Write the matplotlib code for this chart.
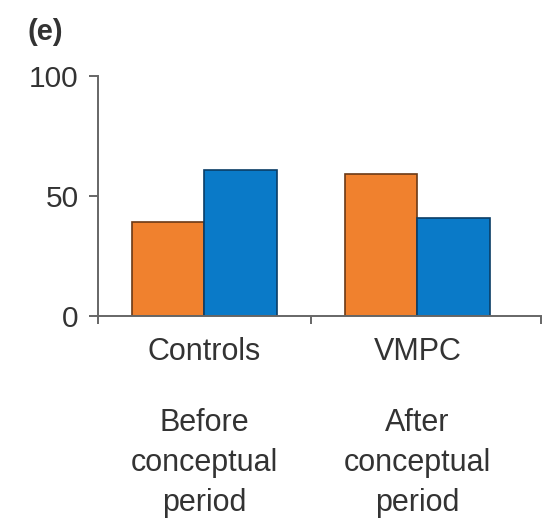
import numpy as np
import matplotlib.pyplot as plt
from matplotlib import transforms

plt.rcParams['font.family'] = ['Liberation Sans', 'DejaVu Sans']

# Datos
grupos = ['Controls', 'VMPC']
periodos = ['Before\nconceptual\nperiod', 'After\nconceptual\nperiod']
naranja = [39, 59]
azul = [61, 41]

color_texto = '#333333'
color_eje = '#666666'

fig = plt.figure(figsize=(5.45, 5.25), dpi=100)
ax = fig.add_axes([0.179, 0.398, 0.814, 0.457])

x = np.arange(len(grupos))
ancho = 0.34
ax.bar(x - ancho / 2, naranja, ancho, color='#F0812E', edgecolor='#6b3a16', linewidth=1.2)
ax.bar(x + ancho / 2, azul, ancho, color='#0A7AC8', edgecolor='#0b3d66', linewidth=1.2)

ax.set_xlim(-0.5, 1.58)
ax.set_ylim(0, 100)
ax.set_yticks([0, 50, 100])
ax.set_xticks([-0.5, 0.5, 1.58])
ax.set_xticklabels([])

for lado in ['top', 'right']:
    ax.spines[lado].set_visible(False)
for lado in ['left', 'bottom']:
    ax.spines[lado].set_color(color_eje)
    ax.spines[lado].set_linewidth(1.4)

ax.tick_params(axis='y', direction='out', length=6.5, width=1.4, color=color_eje,
               labelsize=21.5, labelcolor=color_texto, pad=7)
ax.tick_params(axis='x', direction='out', length=6, width=1.4, color=color_eje)

# Etiquetas de grupo y periodo
trans = transforms.blended_transform_factory(ax.transData, ax.transAxes)
for i in range(len(grupos)):
    ax.text(x[i], -0.15, grupos[i], transform=trans, ha='center', va='center',
            fontsize=22, color=color_texto)
    ax.text(x[i], -0.6125, periodos[i], transform=trans, ha='center', va='center',
            fontsize=22, color=color_texto, linespacing=1.45)

fig.text(0.05, 0.94, '(e)', fontsize=21, fontweight='bold', color=color_texto,
         ha='left', va='center')

fig.savefig('out.png', dpi=100)
